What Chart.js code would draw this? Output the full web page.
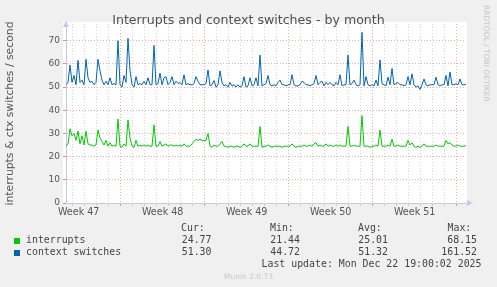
<!DOCTYPE html>
<html>
<head>
<meta charset="utf-8">
<script src="https://cdn.jsdelivr.net/npm/chart.js@4"></script>
<style>
  body { margin: 0; background: #f0f0f0; }
  #wrap { position: relative; width: 497px; height: 287px; overflow: hidden; }
  canvas { position: absolute; left: 0; top: 0; }
  .t { position: absolute; white-space: pre; line-height: 1; }
  .mono { font-family: "DejaVu Sans Mono", monospace; font-size: 9.9px; color: #444; }
  .r { text-align: right; }
  .sq { position: absolute; width: 6px; height: 6px; }
</style>
</head>
<body>
<div id="wrap">
  <canvas id="muninChart" width="497" height="287"></canvas>
  <div class="t" style="left:0;width:497px;text-align:center;top:13.6px;font-family:'DejaVu Sans';font-size:12.6px;color:#505050;padding-left:-2px">Interrupts and context switches - by month</div>
  <div class="t" style="left:482px;top:5px;writing-mode:vertical-rl;font-family:'DejaVu Sans';font-size:7.5px;color:#c4c4c4">RRDTOOL / TOBI OETIKER</div>

  <div class="t mono" style="left:181px;top:223.3px">Cur:</div>
  <div class="t mono" style="left:270px;top:223.3px">Min:</div>
  <div class="t mono" style="left:358px;top:223.3px">Avg:</div>
  <div class="t mono" style="left:447.5px;top:223.3px">Max:</div>

  <div class="sq" style="left:14px;top:237.5px;background:#00cc00"></div>
  <div class="t mono" style="left:26px;top:235px">interrupts</div>
  <div class="t mono r" id="row1" style="top:235px"></div>

  <div class="sq" style="left:14px;top:249.5px;background:#0066b3"></div>
  <div class="t mono" style="left:26px;top:247px">context switches</div>

  <div class="t mono" style="left:261.5px;top:258.5px">Last update: Mon Dec 22 19:00:02 2025</div>
  <div class="t" style="left:0;width:497px;text-align:center;top:272.8px;font-family:'DejaVu Sans';font-size:7.5px;color:#c8c8c8">Munin 2.0.73</div>
</div>
<script>
// legend stats (Cur, Min, Avg, Max)
var statsInterrupts = ['24.77', '21.44', '25.01', '68.15'];
var statsSwitches = ['51.30', '44.72', '51.32', '161.52'];

// x tick labels
var weekLabels = ['Week 47', 'Week 48', 'Week 49', 'Week 50', 'Week 51'];

// one sample every 4 hours
var interrupts = [
  24.5, 25.5, 32, 29, 30, 27, 31, 25.5, 29, 25,
  31, 25.5, 25, 25, 24.5, 25, 31.5, 28, 26.5, 25,
  27, 24.5, 26, 24.5, 25, 24.5, 36.2, 24.5, 24, 25.5,
  24.5, 35.8, 28, 24.5, 24, 27, 24.5, 25, 24.5, 25,
  24.5, 25, 24.5, 24.5, 33.7, 24.5, 24.5, 26.5, 24.5, 25,
  25.5, 24.5, 25, 25, 24.5, 25, 24.5, 25, 24.5, 25.5,
  24.5, 24.5, 24.5, 25.5, 26.5, 27.5, 27, 27.5, 27, 27,
  27, 30, 24.5, 24, 25, 24.5, 24.5, 25.5, 26.5, 24.5,
  24.5, 24, 24.5, 24.5, 24, 24.5, 24.5, 24, 24.5, 25.5,
  24.5, 24.5, 25.5, 24.5, 24.5, 24.5, 24.5, 33, 24, 24.5,
  24.5, 25, 24.5, 24, 24.5, 24.5, 24.5, 24.5, 24, 24.5,
  24.5, 24.5, 24.5, 25.5, 24.5, 24, 24.5, 24.5, 24.5, 25,
  24.5, 24.5, 25, 24.5, 25.5, 26, 24.5, 25, 24.5, 24.5,
  25.5, 24.5, 25, 24.5, 24.5, 25, 24.5, 25, 24.5, 24.5,
  24.5, 33, 24.5, 24.5, 25, 24.5, 24.5, 24.5, 37.7, 24.5,
  24.5, 24.5, 24, 24.5, 24.5, 25, 24.5, 31.5, 24.5, 24.5,
  24.5, 25, 24.5, 27.5, 24.5, 24.5, 25, 24.5, 24.5, 24.5,
  24.5, 27, 25, 26, 24.5, 24, 24.5, 24, 24.5, 25.5,
  24.5, 24.5, 24.5, 24.5, 24.5, 25, 24.5, 24.5, 24.5, 24.5,
  27, 25.5, 26, 25, 24.5, 24.5, 25, 24.5, 24.5, 24.5,
  24.8
];
var contextSwitches = [
  51, 52, 59.5, 52, 55, 51, 61.5, 52, 53, 51,
  62, 54, 52, 52.5, 51, 52, 62, 57, 53, 51,
  52.5, 51, 54, 51, 51.5, 51, 70, 51, 50, 55,
  52, 71, 57, 51, 50, 54.5, 51, 51.5, 51, 52.5,
  51, 54, 51, 51, 68, 51, 51.5, 56, 51, 54,
  54.5, 51, 52, 54.5, 51, 52.5, 51.5, 52, 51, 55.3,
  51, 51.5, 51, 51, 51.5, 54.5, 52.5, 51, 51, 51,
  51.5, 57.4, 50.5, 51, 52.8, 50, 51, 57, 52, 50.5,
  51, 50, 52, 50.5, 51, 50, 51, 50, 50.5, 54.5,
  50, 50.5, 54, 50.5, 51, 54, 50.5, 63.8, 50.5, 51,
  51.5, 55, 51, 50.5, 51, 50.5, 52, 53, 51, 51,
  50.5, 51, 51, 55.3, 51, 50.5, 50.5, 51, 52.5, 52,
  51, 51, 50.5, 51, 51.5, 55, 51, 52, 52.5, 50.5,
  52, 51, 52, 51, 50.5, 52, 51, 55.3, 50.5, 51,
  51, 63.8, 51, 51.5, 53, 51, 50.5, 51, 73.6, 50.5,
  54.5, 51, 50.5, 51, 50.5, 53, 50.5, 61.7, 51.5, 51,
  50.5, 54.3, 51, 58, 51, 51.5, 52, 51, 51, 50.5,
  51, 54.5, 51, 55.7, 51, 50, 50.5, 49, 51, 53.5,
  51, 50.5, 51, 51, 51, 54.3, 51, 50.5, 51, 51,
  55, 50.5, 56.5, 51, 51, 51.5, 51, 53.5, 51, 51,
  51.3
];

// stats rows as text
(function () {
  var wrap = document.getElementById('wrap');
  var rights = [211.5, 300, 388, 477];
  [[statsInterrupts, 235], [statsSwitches, 247]].forEach(function (row) {
    row[0].forEach(function (s, i) {
      var d = document.createElement('div');
      d.className = 't mono';
      d.style.top = row[1] + 'px';
      d.style.right = (497 - rights[i]) + 'px';
      d.textContent = s;
      wrap.appendChild(d);
    });
  });
})();

var firstWeek = 27.35;   // sample index of first week boundary
var weekStep = 42;       // samples per week
var dayStep = 6;         // samples per day
var labelTicks = weekLabels.map(function (l, i) { return { value: firstWeek - 21 + i * weekStep }; });
var gridTicks = [];
for (var v = firstWeek - 4 * dayStep; v < 200; v += dayStep) gridTicks.push({ value: v });

function isWeek(v) {
  var d = (v - firstWeek) / weekStep;
  return Math.abs(d - Math.round(d)) < 0.01;
}

var gridGrey = '#d6d6d6';
var gridRed = '#eeaaaa';
var axisBlue = '#c6c6ee';

var plotBackground = {
  id: 'plotBackground',
  beforeDraw: function (chart) {
    var a = chart.chartArea, c = chart.ctx;
    c.save();
    c.fillStyle = '#ffffff';
    c.fillRect(a.left - 3, a.top - 2, a.right - a.left + 4, a.bottom - a.top + 2);
    c.restore();
  },
  afterDraw: function (chart) {
    var a = chart.chartArea, c = chart.ctx;
    c.save();
    c.fillStyle = axisBlue;
    c.beginPath();
    c.moveTo(a.left - 3, a.top + 3); c.lineTo(a.left + 3, a.top + 3); c.lineTo(a.left, a.top - 3);
    c.fill();
    c.beginPath();
    c.moveTo(a.right + 1, a.bottom - 3); c.lineTo(a.right + 1, a.bottom + 3); c.lineTo(a.right + 7, a.bottom);
    c.fill();
    c.restore();
  }
};

var ctx = document.getElementById('muninChart').getContext('2d');
var muninChart = new Chart(ctx, {
  type: 'line',
  data: {
    datasets: [{
      label: 'interrupts',
      data: interrupts.map(function (y, i) { return { x: i, y: y }; }),
      borderColor: '#00cc00',
      borderWidth: 1,
      pointRadius: 0,
      tension: 0
    }, {
      label: 'context switches',
      data: contextSwitches.map(function (y, i) { return { x: i, y: y }; }),
      borderColor: '#0066b3',
      borderWidth: 1,
      pointRadius: 0,
      tension: 0
    }]
  },
  options: {
    responsive: false,
    animation: false,
    layout: { padding: { top: 24, right: 31, bottom: 0, left: 0 } },
    plugins: { legend: { display: false }, tooltip: { enabled: false }, title: { display: false } },
    scales: {
      x: {
        type: 'linear',
        min: 0,
        max: 200,
        afterFit: function (s) { s.height = 84; },
        afterBuildTicks: function (s) { s.ticks = labelTicks.concat(gridTicks); },
        ticks: {
          autoSkip: false,
          maxRotation: 0,
          padding: 1,
          color: '#555',
          font: { family: 'DejaVu Sans', size: 9.6 },
          callback: function (v, i) { return i < weekLabels.length ? weekLabels[i] : ''; }
        },
        grid: {
          tickLength: 3,
          color: function (c) {
            if (c.index < weekLabels.length) return 'rgba(0,0,0,0)';
            return isWeek(c.tick.value) ? gridRed : gridGrey;
          },
          tickColor: function (c) {
            if (c.index < weekLabels.length) return 'rgba(0,0,0,0)';
            return isWeek(c.tick.value) ? '#ee8888' : '#cccccc';
          }
        },
        border: { color: axisBlue, dash: [1, 2] }
      },
      y: {
        min: 0,
        max: 77.2,
        afterFit: function (s) { s.width = 66; },
        afterBuildTicks: function (s) {
          var t = [];
          for (var k = 0; k <= 75; k += 5) t.push({ value: k });
          s.ticks = t;
        },
        ticks: {
          padding: 3,
          color: '#555',
          font: { family: 'DejaVu Sans', size: 9 },
          callback: function (v) { return v % 10 === 0 ? String(v) : ''; }
        },
        grid: {
          tickLength: 3,
          color: function (c) {
            if (c.tick.value === 0) return 'rgba(0,0,0,0)';
            return c.tick.value % 10 === 0 ? gridRed : gridGrey;
          },
          tickColor: function (c) { return c.tick.value % 10 === 0 ? '#ee8888' : '#cccccc'; }
        },
        border: { color: axisBlue, dash: [1, 2] },
        title: {
          display: true,
          text: 'interrupts & ctx switches / second',
          color: '#555',
          font: { family: 'DejaVu Sans', size: 10.8 },
          padding: { top: 4, bottom: 0 }
        }
      }
    }
  },
  plugins: [plotBackground]
});
</script>
</body>
</html>
